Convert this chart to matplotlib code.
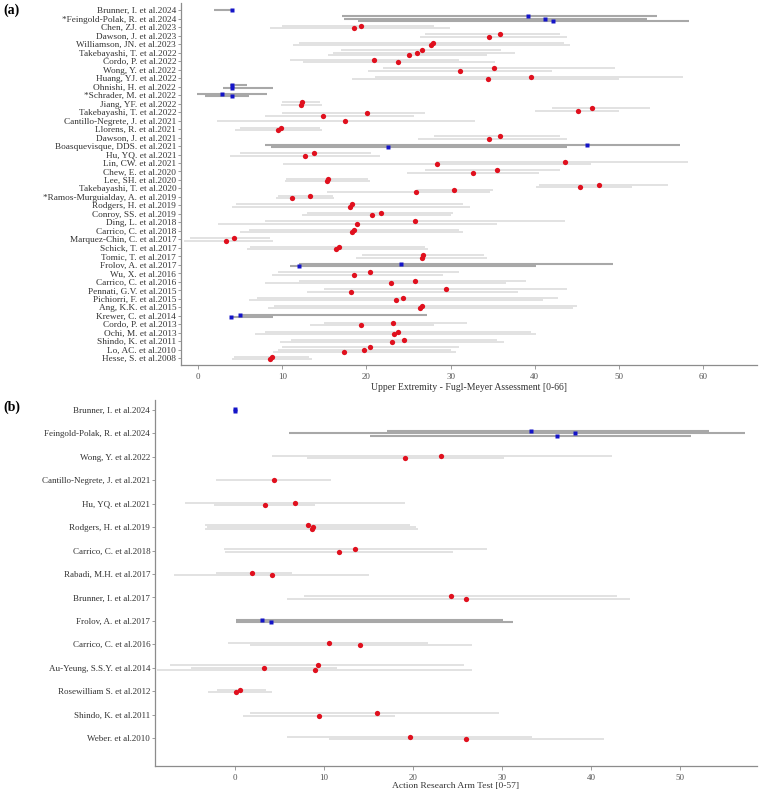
import matplotlib
matplotlib.use("Agg")
import matplotlib.pyplot as plt

plt.rcParams['font.family'] = ['Liberation Serif', 'DejaVu Serif']

# (a) Upper Extremity - Fugl-Meyer Assessment: per study, mean (or median) points
# with their SD (or IQR) range. First value of each row is drawn lowest.
fma_studies = [
    "Brunner, I. et al.2024", "*Feingold-Polak, R. et al.2024", "Chen, ZJ. et al.2023",
    "Dawson, J. et al.2023", "Williamson, JN. et al.2023", "Takebayashi, T. et al.2022",
    "Cordo, P. et al.2022", "Wong, Y. et al.2022", "Huang, YJ. et al.2022",
    "Ohnishi, H. et al.2022", "*Schrader, M. et al.2022", "Jiang, YF. et al.2022",
    "Takebayashi, T. et al.2022", "Cantillo-Negrete, J. et al.2021", "Llorens, R. et al.2021",
    "Dawson, J. et al.2021", "Boasquevisque, DDS. et al.2021", "Hu, YQ. et al.2021",
    "Lin, CW. et al.2021", "Chew, E. et al.2020", "Lee, SH. et al.2020",
    "Takebayashi, T. et al.2020", "*Ramos-Murguialday, A. et al.2019", "Rodgers, H. et al.2019",
    "Conroy, SS. et al.2019", "Ding, L. et al.2018", "Carrico, C. et al.2018",
    "Marquez-Chin, C. et al.2017", "Schick, T. et al.2017", "Tomic, T. et al.2017",
    "Frolov, A. et al.2017", "Wu, X. et al.2016", "Carrico, C. et al.2016",
    "Pennati, G.V. et al.2015", "Pichiorri, F. et al.2015", "Ang, K.K. et al.2015",
    "Krewer, C. et al.2014", "Cordo, P. et al.2013", "Ochi, M. et al.2013",
    "Shindo, K. et al.2011", "Lo, AC. et al.2010", "Hesse, S. et al.2008",
]
fma_center = [
    [4.0], [42.2, 41.2, 39.2], [18.5, 19.4], [34.6, 35.9], [27.7, 27.9],
    [25.1, 26.0, 26.6], [23.8, 20.9], [31.1, 35.2], [34.4, 39.5], [4.0, 4.0],
    [4.0, 2.9], [12.2, 12.4], [14.8, 20.1, 45.1, 46.8], [17.5], [9.5, 9.9],
    [34.6, 35.9], [22.6, 46.2], [12.7, 13.8], [28.4, 43.6], [32.7, 35.5],
    [15.3, 15.4], [25.9, 30.4, 45.4, 47.6], [11.2, 13.3], [18.05, 18.25], [20.7, 21.7],
    [18.9, 25.8], [18.25, 18.5], [3.3, 4.3], [16.35, 16.7], [26.6, 26.75],
    [12.0, 24.1], [18.5, 20.4], [22.9, 25.8], [18.2, 29.4], [23.5, 24.3],
    [26.4, 26.6], [3.9, 4.95], [19.4, 23.2], [23.3, 23.7], [23.1, 24.5],
    [17.3, 19.75, 20.4], [8.55, 8.8],
]
fma_low = [
    [1.9], [19.0, 17.3, 17.1], [8.5, 10.0], [26.4, 27.0], [11.3, 12.0],
    [15.4, 16.0, 17.0], [12.5, 10.9], [20.2, 22.0], [18.3, 21.0], [3.0, 3.8],
    [0.8, -0.1], [9.9, 10.0], [8.0, 10.0, 40.0, 42.0], [2.2], [4.4, 5.0],
    [26.1, 28.0], [8.7, 8.0], [3.8, 5.0], [10.1, 28.3], [24.8, 27.0],
    [10.3, 10.5], [15.3, 26.0, 40.2, 40.5], [9.3, 9.5], [4.0, 4.5], [12.3, 13.0],
    [2.4, 8.0], [5.0, 6.0], [-1.7, -1.0], [5.8, 6.2], [18.8, 19.5],
    [10.9, 12.0], [8.75, 9.5], [8.0, 12.0], [12.9, 15.0], [6.0, 7.0],
    [8.35, 9.0], [3.8, 4.9], [13.3, 15.0], [6.8, 8.0], [9.7, 11.0],
    [8.9, 9.5, 10.0], [4.0, 4.3],
]
fma_high = [
    [4.1], [58.3, 53.3, 54.5], [29.9, 28.0], [43.8, 43.0], [44.2, 43.5],
    [34.3, 37.6, 36.0], [35.3, 31.0], [42.0, 49.5], [50.0, 57.6], [8.9, 5.8],
    [6.0, 8.2], [14.7, 14.5], [25.6, 27.0, 50.0, 53.7], [32.9], [14.7, 14.5],
    [43.8, 43.0], [43.8, 57.2], [21.6, 20.5], [46.7, 58.2], [40.5, 43.0],
    [20.4, 20.2], [34.7, 35.0, 51.5, 55.8], [16.1, 16.0], [32.3, 31.5], [30.1, 30.3],
    [35.5, 43.6], [31.5, 31.0], [8.9, 8.5], [27.3, 27.0], [34.3, 34.0],
    [40.2, 49.3], [29.1, 31.0], [36.6, 39.0], [38.0, 43.8], [41.0, 42.8],
    [44.5, 45.0], [8.95, 27.2], [28.0, 31.9], [40.2, 39.5], [36.3, 35.5],
    [30.7, 30.0, 31.0], [13.5, 13.2],
]
fma_median_rows = [0, 1, 9, 10, 16, 30, 36]

# (b) Action Research Arm Test
arat_studies = [
    "Brunner, I. et al.2024", "Feingold-Polak, R. et al.2024", "Wong, Y. et al.2022",
    "Cantillo-Negrete, J. et al.2021", "Hu, YQ. et al.2021", "Rodgers, H. et al.2019",
    "Carrico, C. et al.2018", "Rabadi, M.H. et al.2017", "Brunner, I. et al.2017",
    "Frolov, A. et al.2017", "Carrico, C. et al.2016", "Au-Yeung, S.S.Y. et al.2014",
    "Rosewilliam S. et al.2012", "Shindo, K. et al.2011", "Weber. et al.2010",
]
arat_center = [
    [0.0, 0.0], [36.2, 38.2, 33.2], [19.1, 23.1], [4.4], [3.4, 6.7],
    [8.6, 8.8, 8.2], [11.7, 13.5], [4.1, 1.95], [26.0, 24.3], [4.08, 3.07],
    [14.0, 10.5], [9.0, 3.2, 9.3], [0.05, 0.6], [9.4, 15.9], [26.0, 19.6],
]
arat_low = [
    [0.0, 0.0], [15.2, 6.1, 17.1], [8.05, 4.2], [-2.1], [-2.4, -5.6],
    [-3.4, -3.2, -3.4], [-1.1, -1.2], [-6.9, -2.2], [5.8, 7.7], [0.07, 0.07],
    [1.7, -0.75], [-8.8, -5.0, -7.3], [-3.0, -2.0], [0.9, 1.7], [10.5, 5.8],
]
arat_high = [
    [0.0, 0.0], [51.2, 57.3, 53.2], [30.2, 42.3], [10.8], [9.0, 19.1],
    [20.6, 20.3, 19.7], [24.5, 28.3], [15.0, 6.4], [44.4, 42.9], [31.2, 30.1],
    [26.6, 21.7], [26.6, 11.4, 25.7], [4.1, 3.5], [18.0, 29.6], [41.5, 33.4],
]
arat_median_rows = [0, 1, 9]

RED = '#e0101e'
BLUE = '#1414c8'
SPINE = '#8c8c8c'


def draw_panel(ax, studies, center, low, high, median_rows, step, label_size):
    for i, (vals, los, his) in enumerate(zip(center, low, high)):
        med = i in median_rows
        n = len(vals)
        for k, (lo, hi) in enumerate(zip(los, his)):
            y = i + ((n - 1) / 2 - k) * step
            ax.plot([lo, hi], [y, y], color='#a8a8a8' if med else '#dadada',
                    lw=1.5 if med else 1.1, solid_capstyle='butt', zorder=1)
    for i, vals in enumerate(center):
        med = i in median_rows
        n = len(vals)
        for k, v in enumerate(vals):
            y = i + ((n - 1) / 2 - k) * step
            if med:
                ax.plot(v, y, 's', color=BLUE, ms=2.8, mec='none', zorder=3)
            else:
                ax.plot(v, y, 'o', color=RED, ms=3.8, mec='none', zorder=3)
    ax.set_yticks(range(len(studies)))
    ax.set_yticklabels(studies, fontsize=label_size, color='#333333')
    for s in ['top', 'right']:
        ax.spines[s].set_visible(False)
    for s in ['left', 'bottom']:
        ax.spines[s].set_color(SPINE)
        ax.spines[s].set_linewidth(0.9)
    ax.tick_params(axis='y', length=2, width=0.6, color=SPINE, pad=1.5)
    ax.tick_params(axis='x', length=3, width=0.6, color=SPINE, labelsize=6.5,
                   labelcolor='#555555', pad=2.5)


fig = plt.figure(figsize=(7.72, 7.93), dpi=100)

ax1 = fig.add_axes([0.2345, 0.5397, 0.746, 0.456])
draw_panel(ax1, fma_studies, fma_center, fma_low, fma_high, fma_median_rows, 0.28, 6.7)
ax1.set_xlim(-2.02, 66.4)
ax1.set_ylim(41.8, -0.8)
ax1.set_xticks([0, 10, 20, 30, 40, 50, 60])
ax1.set_xlabel("Upper Extremity - Fugl-Meyer Assessment [0-66]", fontsize=7.0,
               color='#333333', labelpad=1.5)

ax2 = fig.add_axes([0.2008, 0.0340, 0.7798, 0.4616])
draw_panel(ax2, arat_studies, arat_center, arat_low, arat_high, arat_median_rows, 0.10, 6.5)
ax2.set_xlim(-9.0, 58.65)
ax2.set_ylim(15.2, -0.43)
ax2.set_xticks([0, 10, 20, 30, 40, 50])
ax2.set_xlabel("Action Research Arm Test [0-57]", fontsize=6.8, color='#333333', labelpad=0.5)

fig.text(0.004, 0.987, "(a)", fontsize=10, fontweight='bold', va='center', ha='left')
fig.text(0.004, 0.486, "(b)", fontsize=10, fontweight='bold', va='center', ha='left')

fig.savefig("out.png", dpi=100)
